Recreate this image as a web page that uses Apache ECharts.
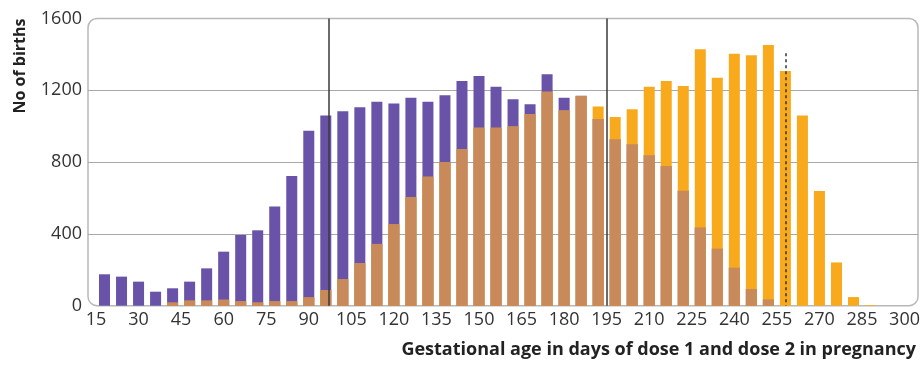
<!DOCTYPE html>
<html>
<head>
<meta charset="utf-8">
<script src="https://cdn.jsdelivr.net/npm/echarts@6/dist/echarts.min.js"></script>
<style>
  html, body { margin: 0; padding: 0; background: #fff; }
  #chart { width: 923px; height: 365px; }
</style>
</head>
<body>
<div id="chart"></div>
<script>
// bin centre (days) for each bar
const days = [18, 24, 30, 36, 42, 48, 54, 60, 66, 72, 78, 84, 90, 96, 102, 108,
  114, 120, 126, 132, 138, 144, 150, 156, 162, 168, 174, 180, 186, 192, 198, 204,
  210, 216, 222, 228, 234, 240, 246, 252, 258, 264, 270, 276, 282, 288];

// births by gestational age at dose 1 (purple)
const dose1 = [175, 162, 134, 78, 97, 134, 208, 301, 394, 420, 553, 722, 975, 1060, 1083, 1105,
  1136, 1127, 1159, 1136, 1172, 1252, 1280, 1220, 1150, 1122, 1289, 1159, 1170, 1040, 927, 899,
  838, 778, 641, 436, 318, 212, 93, 35, 0, 0, 0, 0, 0, 0];

// births by gestational age at dose 2 (orange)
const dose2 = [0, 0, 0, 0, 17, 28, 28, 33, 24, 17, 24, 24, 46, 87, 147, 236,
  344, 453, 604, 719, 799, 871, 992, 992, 999, 1066, 1192, 1088, 1168, 1110, 1051, 1094,
  1220, 1252, 1224, 1428, 1270, 1404, 1395, 1452, 1307, 1060, 639, 241, 48, 4];

const xTicks = [15, 300, 15];      // min, max, step
const yTicks = [0, 1600, 400];
const refLines = [97, 195];        // solid vertical lines
const dashedLine = [258, 1406];    // day, top value

const purple = '#6853a9';
const orange = '#f8aa1c';
const brown = '#c8895b';
const font = '"Open Sans", sans-serif';

const overlap = dose1.map((v, i) => Math.min(v, dose2[i]));
const pairs = (arr) => arr.map((v, i) => [days[i], v]);

const chart = echarts.init(document.getElementById('chart'));
chart.setOption({
    animation: false,
    textStyle: { fontFamily: font },
    title: {
        text: 'Gestational age in days of dose 1 and dose 2 in pregnancy',
        right: 2,
        top: 336,
        textStyle: { fontSize: 18, fontWeight: 'bold', color: '#222', fontFamily: font }
    },
    graphic: [
        {
            type: 'rect',
            z: 0,
            shape: { x: 88, y: 18.5, width: 830, height: 287.2, r: 9 },
            style: { fill: 'none', stroke: '#b8b8b8', lineWidth: 1.5 }
        },
        {
            type: 'text',
            x: 20,
            y: 66,
            rotation: Math.PI / 2,
            style: {
                text: 'No of births',
                font: 'bold 16px ' + font,
                fill: '#222',
                align: 'center',
                verticalAlign: 'middle'
            }
        }
    ],
    grid: [
        { left: 88, top: 18.5, width: 830, height: 287.2 },
        { left: 96, top: 18.5, width: 808.6, height: 287.2 }
    ],
    xAxis: [
        { type: 'value', gridIndex: 0, min: 0, max: 1, show: false },
        {
            type: 'value',
            gridIndex: 1,
            min: xTicks[0],
            max: xTicks[1],
            interval: xTicks[2],
            axisLine: { show: false },
            axisTick: { show: false },
            splitLine: { show: false },
            axisLabel: { fontSize: 18, color: '#333', margin: 5, fontFamily: font }
        }
    ],
    yAxis: [
        {
            type: 'value',
            gridIndex: 0,
            min: yTicks[0],
            max: yTicks[1],
            interval: yTicks[2],
            axisLine: { show: false },
            axisTick: { show: false },
            axisLabel: {
                fontSize: 18,
                color: '#333',
                margin: 6,
                fontFamily: font,
                formatter: (v) => String(v)
            },
            splitLine: {
                show: true,
                lineStyle: {
                    color: ['rgba(0,0,0,0)', '#a8a8a8', '#a8a8a8', '#a8a8a8', 'rgba(0,0,0,0)'],
                    width: 1.2
                }
            }
        },
        {
            type: 'value',
            gridIndex: 1,
            min: yTicks[0],
            max: yTicks[1],
            show: false,
            splitLine: { show: false }
        }
    ],
    series: [
        {
            name: 'Dose 1',
            type: 'bar',
            xAxisIndex: 1,
            yAxisIndex: 1,
            barWidth: 11,
            barGap: '-100%',
            itemStyle: { color: purple },
            data: pairs(dose1)
        },
        {
            name: 'Dose 2',
            type: 'bar',
            xAxisIndex: 1,
            yAxisIndex: 1,
            barWidth: 11,
            barGap: '-100%',
            itemStyle: { color: orange },
            data: pairs(dose2)
        },
        {
            name: 'Both',
            type: 'bar',
            xAxisIndex: 1,
            yAxisIndex: 1,
            barWidth: 11,
            barGap: '-100%',
            itemStyle: { color: brown },
            data: pairs(overlap),
            markLine: {
                silent: true,
                symbol: 'none',
                label: { show: false },
                data: [
                    ...refLines.map((d) => ({
                        xAxis: d,
                        lineStyle: { color: '#3a3a3a', width: 1.5, type: 'solid' }
                    })),
                    [
                        { coord: [dashedLine[0], dashedLine[1]] },
                        { coord: [dashedLine[0], 0] }
                    ]
                ],
                lineStyle: { color: '#333', width: 1.5, type: [3, 3] }
            }
        }
    ]
});
</script>
</body>
</html>
